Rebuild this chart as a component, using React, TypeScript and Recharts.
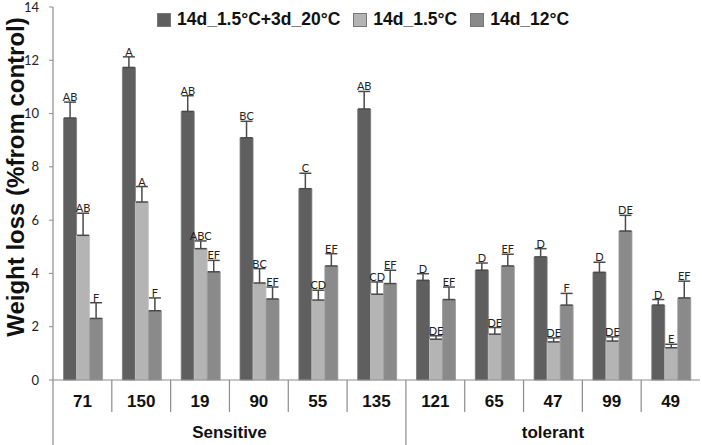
import { Bar, BarChart, ErrorBar, LabelList, Legend, XAxis, YAxis } from "recharts";

const categories = ["71", "150", "19", "90", "55", "135", "121", "65", "47", "99", "49"];
const groups = ["Sensitive", "Sensitive", "Sensitive", "Sensitive", "Sensitive", "Sensitive", "tolerant", "tolerant", "tolerant", "tolerant", "tolerant"];

const darkValues = [9.83, 11.73, 10.08, 9.09, 7.18, 10.17, 3.74, 4.12, 4.62, 4.04, 2.81];
const darkErr = [0.6, 0.4, 0.59, 0.62, 0.58, 0.66, 0.25, 0.27, 0.31, 0.38, 0.21];
const darkLetters = ["AB", "A", "AB", "BC", "C", "AB", "D", "D", "D", "D", "D"];

const lightValues = [5.43, 6.68, 4.93, 3.64, 3.0, 3.22, 1.53, 1.72, 1.43, 1.46, 1.21];
const lightErr = [0.83, 0.58, 0.29, 0.54, 0.37, 0.46, 0.13, 0.25, 0.15, 0.16, 0.13];
const lightLetters = ["AB", "A", "ABC", "BC", "CD", "CD", "DE", "DE", "DE", "DE", "E"];

const medValues = [2.31, 2.6, 4.06, 3.04, 4.28, 3.62, 3.02, 4.28, 2.81, 5.59, 3.08];
const medErr = [0.59, 0.48, 0.43, 0.45, 0.46, 0.5, 0.47, 0.44, 0.44, 0.59, 0.63];
const medLetters = ["F", "F", "EF", "EF", "EF", "EF", "EF", "EF", "F", "DE", "EF"];

const yTicks = [0, 2, 4, 6, 8, 10, 12, 14];

const seriesNames = ["14d_1.5°C+3d_20°C", "14d_1.5°C", "14d_12°C"];
const seriesColors = ["#5f5f5f", "#b4b4b4", "#8a8a8a"];

const CHART_W = 702;
const CHART_H = 445;
const MARGIN = { top: 7, right: 2, bottom: 0, left: 0 };
const Y_AXIS_W = 53;
const X_AXIS_H = 65;
const PLOT_W = CHART_W - MARGIN.left - MARGIN.right - Y_AXIS_W;

const data = categories.map((name, i) => ({
  name,
  group: groups[i],
  dark: darkValues[i],
  darkErr: [0, darkErr[i]],
  light: lightValues[i],
  lightErr: [0, lightErr[i]],
  med: medValues[i],
  medErr: [0, medErr[i]],
}));

const groupNames = Array.from(new Set(groups));
const groupCenters = groupNames.map((g) => {
  const idx = groups.map((v, i) => (v === g ? i : -1)).filter((i) => i >= 0);
  return { name: g, center: (idx[0] + idx[idx.length - 1]) / 2 };
});

const lineColor = "#8c8c8c";
const boldFont = "Liberation Sans, Arial, sans-serif";

function CategoryTick(props: any) {
  const { x, y, index, payload } = props;
  const band = PLOT_W / categories.length;
  const left = x - band / 2;
  const groupStart = index === 0 || groups[index] !== groups[index - 1];
  const label = groupCenters.find((g) => Math.floor(g.center) === index);
  return (
    <g>
      <line x1={left} y1={y} x2={left} y2={groupStart ? y + 65 : y + 32} stroke={lineColor} strokeWidth={1.2} />
      <text x={x} y={y + 27} textAnchor="middle" fontSize={17} fontWeight="bold" fill="#111" fontFamily={boldFont}>
        {payload.value}
      </text>
      {label && (
        <text x={x + (label.center - index) * band} y={y + 58} textAnchor="middle" fontSize={17} fontWeight="bold" fill="#111" fontFamily={boldFont}>
          {label.name}
        </text>
      )}
    </g>
  );
}

function letterLabel(values: number[], errs: number[], letters: string[]) {
  return (props: any) => {
    const vb = props.viewBox ?? props;
    const i = props.index;
    const h = Math.abs(vb.height);
    const k = values[i] > 0 ? h / values[i] : 0;
    const top = Math.min(vb.y, vb.y + vb.height) - errs[i] * k;
    return (
      <text x={vb.x + vb.width / 2} y={top - 1} textAnchor="middle" fontSize={11} fill="#222" fontFamily="Lato, sans-serif">
        {letters[i]}
      </text>
    );
  };
}

function LegendContent() {
  return (
    <div style={{ display: "flex", alignItems: "center", fontFamily: boldFont, fontWeight: "bold", fontSize: 17.5, color: "#111" }}>
      {seriesNames.map((name, i) => (
        <div key={name} style={{ display: "flex", alignItems: "center", marginRight: 13 }}>
          <span style={{ display: "inline-block", width: 14, height: 14, background: seriesColors[i], border: "1px solid #777", boxSizing: "border-box", marginRight: 6 }} />
          <span>{name}</span>
        </div>
      ))}
    </div>
  );
}

function YLabel() {
  return (
    <text x={24} y={177} transform="rotate(-90, 24, 177)" textAnchor="middle" fontSize={24} fontWeight="bold" fill="#111" fontFamily={boldFont}>
      Weight loss (%from control)
    </text>
  );
}

export default function App() {
  return (
    <div style={{ width: CHART_W, height: CHART_H, background: "#fff" }}>
      <style>{`body{margin:0;}`}</style>
      <BarChart width={CHART_W} height={CHART_H} data={data} margin={MARGIN} barCategoryGap="18%" barGap={0}>
        <XAxis
          dataKey="name"
          height={X_AXIS_H}
          axisLine={{ stroke: lineColor, strokeWidth: 1.2 }}
          tickLine={false}
          tickSize={0}
          tickMargin={0}
          interval={0}
          tick={<CategoryTick />}
        />
        <YAxis
          width={Y_AXIS_W}
          domain={[0, 14]}
          ticks={yTicks}
          interval={0}
          axisLine={{ stroke: lineColor, strokeWidth: 1.2 }}
          tickLine={{ stroke: lineColor }}
          tickSize={4}
          tickMargin={10}
          tick={{ fontSize: 13, fill: "#222", fontFamily: "Lato, sans-serif" }}
          label={<YLabel />}
        />
        <Legend verticalAlign="middle" layout="horizontal" content={<LegendContent />} wrapperStyle={{ top: 9, left: 157, width: 500, height: 20 }} />
        <Bar dataKey="dark" name={seriesNames[0]} fill={seriesColors[0]} stroke="#7a7a7a" strokeWidth={0.8} isAnimationActive={false}>
          <ErrorBar dataKey="darkErr" direction="y" width={6} stroke="#4a4a4a" strokeWidth={1.5} />
          <LabelList dataKey="dark" content={letterLabel(darkValues, darkErr, darkLetters)} />
        </Bar>
        <Bar dataKey="light" name={seriesNames[1]} fill={seriesColors[1]} stroke="#c4c4c4" strokeWidth={0.8} isAnimationActive={false}>
          <ErrorBar dataKey="lightErr" direction="y" width={6} stroke="#4a4a4a" strokeWidth={1.5} />
          <LabelList dataKey="light" content={letterLabel(lightValues, lightErr, lightLetters)} />
        </Bar>
        <Bar dataKey="med" name={seriesNames[2]} fill={seriesColors[2]} stroke="#9a9a9a" strokeWidth={0.8} isAnimationActive={false}>
          <ErrorBar dataKey="medErr" direction="y" width={6} stroke="#4a4a4a" strokeWidth={1.5} />
          <LabelList dataKey="med" content={letterLabel(medValues, medErr, medLetters)} />
        </Bar>
      </BarChart>
    </div>
  );
}
